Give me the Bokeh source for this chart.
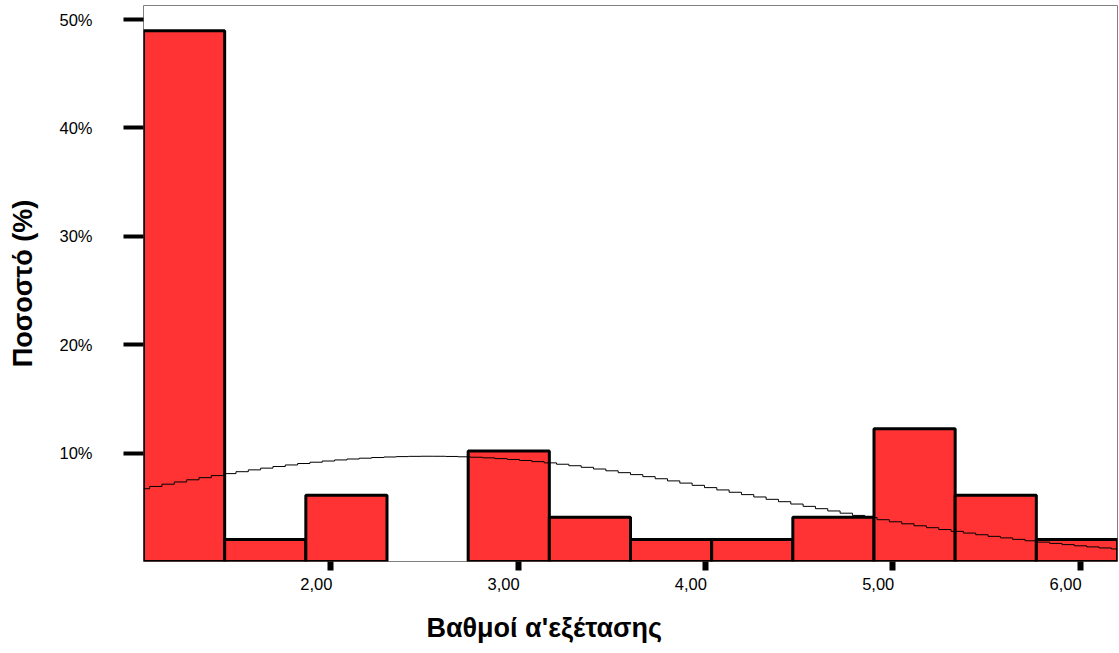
import numpy as np
from bokeh.plotting import figure
from bokeh.models import Range1d, FixedTicker, ColumnDataSource
from bokeh.embed import file_html
from bokeh.resources import INLINE

# Histogram of exam grades (percent of students per bin)
bin_start = 1.0
bin_end = 6.2
percent = [48.98, 2.04, 6.12, 0.0, 10.20, 4.08, 2.04, 2.04, 4.08, 12.24, 6.12, 2.04]

# Fitted normal curve parameters
fit_mean = 2.53
fit_sd = 1.78

x_ticks = [2, 3, 4, 5, 6]
x_tick_labels = ["2,00", "3,00", "4,00", "5,00", "6,00"]
y_ticks = [10, 20, 30, 40, 50]
y_tick_labels = ["10%", "20%", "30%", "40%", "50%"]
y_top = 51.3

x_title = "Βαθμοί α'εξέτασης"
y_title = "Ποσοστό (%)"

FONT = "Liberation Sans"
BAR_RED = "#FF3333"

n_bins = len(percent)
edges = np.linspace(bin_start, bin_end, n_bins + 1)
width = edges[1] - edges[0]
pct = np.array(percent)
mask = pct > 0

W, H = 1119, 653
BL, BR, BT, BB = 143, 2, 5, 92

p = figure(width=W, height=H,
           x_range=Range1d(bin_start, bin_end), y_range=Range1d(0, y_top),
           output_backend="svg", toolbar_location=None,
           min_border_left=BL, min_border_right=BR,
           min_border_top=BT, min_border_bottom=BB)
p.background_fill_color = "white"
p.border_fill_color = "white"
p.outline_line_color = "#7f7f7f"
p.outline_line_width = 1
p.xgrid.visible = False
p.ygrid.visible = False

bars = ColumnDataSource(dict(left=edges[:-1][mask], right=edges[1:][mask], top=pct[mask]))
p.quad(left="left", right="right", bottom=0, top="top", source=bars,
       fill_color=BAR_RED, line_color="black", line_width=3)

# normal curve scaled to the histogram (percent per bin), drawn as a fine staircase
xs = np.linspace(bin_start, bin_end, 80)
curve = 100 * width * np.exp(-0.5 * ((xs - fit_mean) / fit_sd) ** 2) / (fit_sd * np.sqrt(2 * np.pi))
p.step(xs, curve, mode="center", line_color="black", line_width=1)

# y axis
ya = p.yaxis[0]
ya.ticker = FixedTicker(ticks=y_ticks)
ya.major_label_overrides = {t: l for t, l in zip(y_ticks, y_tick_labels)}
ya.axis_line_color = None
ya.major_tick_in = 0
ya.major_tick_out = 20
ya.major_tick_line_width = 4
ya.major_tick_line_color = "black"
ya.minor_tick_line_color = None
ya.major_label_standoff = 31
ya.major_label_text_font = FONT
ya.major_label_text_font_size = "16.5px"
ya.major_label_text_color = "black"
ya.axis_label = y_title
ya.axis_label_text_font = FONT
ya.axis_label_text_font_style = "bold"
ya.axis_label_text_font_size = "27px"
ya.axis_label_text_color = "black"
ya.axis_label_standoff = 18

# x axis: tick marks (drawn as minor ticks) at the grade values,
# labels set slightly left of their marks
frame_w = W - BL - BR
px_per_unit = frame_w / (bin_end - bin_start)
label_shift_px = -14.5
shifted = [t + label_shift_px / px_per_unit for t in x_ticks]
xa = p.xaxis[0]
xa.ticker = FixedTicker(ticks=shifted, minor_ticks=x_ticks)
xa.major_label_overrides = {s: l for s, l in zip(shifted, x_tick_labels)}
xa.axis_line_color = None
xa.major_tick_line_color = None
xa.major_tick_in = 0
xa.major_tick_out = 9
xa.minor_tick_in = 0
xa.minor_tick_out = 9
xa.minor_tick_line_width = 6
xa.minor_tick_line_color = "black"
xa.major_label_standoff = 7
xa.major_label_text_font = FONT
xa.major_label_text_font_size = "16.5px"
xa.major_label_text_color = "black"

# x axis title sits left of the frame centre: pad its right side with no-break spaces
xa.axis_label = x_title + "\u00a0" * 23
xa.axis_label_text_font = FONT
xa.axis_label_text_font_style = "bold"
xa.axis_label_text_font_size = "27px"
xa.axis_label_text_color = "black"
xa.axis_label_standoff = 20

open("out.html", "w").write(file_html(p, INLINE))
